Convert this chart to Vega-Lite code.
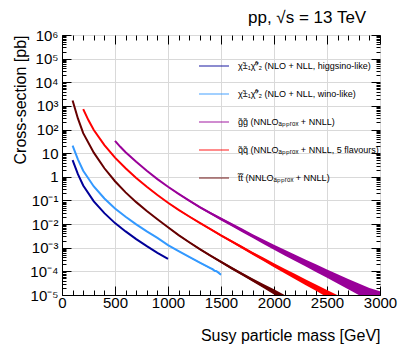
{
  "$schema": "https://vega.github.io/schema/vega-lite/v6.json",
  "width": 318,
  "height": 260,
  "autosize": {"type": "none"},
  "padding": {"left": 62, "top": 35, "right": 20, "bottom": 58},
  "background": "white",
  "config": {"font": "Liberation Sans", "view": {"stroke": "black", "strokeWidth": 1},
    "axis": {"labelFontSize": 15, "labelColor": "black", "titleFontSize": 16, "titleFontWeight": "normal", "titleColor": "black"},
    "legend": {"labelFontSize": 9, "labelColor": "black"}},
  "title": {"text": "pp, √s = 13 TeV", "anchor": "start", "frame": "group", "fontSize": 17, "fontWeight": "normal", "color": "black", "dx": 186, "offset": 1},
  "data": {"values": [
    {"p":"H","m":100,"xs":5.1},{"p":"H","m":150,"xs":1.3},{"p":"H","m":200,"xs":0.43},{"p":"H","m":300,"xs":0.092},{"p":"H","m":400,"xs":0.029},{"p":"H","m":500,"xs":0.011},{"p":"H","m":600,"xs":0.0049},{"p":"H","m":700,"xs":0.0023},{"p":"H","m":800,"xs":0.00116},{"p":"H","m":900,"xs":0.00061},{"p":"H","m":1000,"xs":0.00034},
    {"p":"W","m":100,"xs":21},{"p":"W","m":150,"xs":5.5},{"p":"W","m":200,"xs":1.8},{"p":"W","m":300,"xs":0.39},{"p":"W","m":400,"xs":0.121},{"p":"W","m":500,"xs":0.046},{"p":"W","m":600,"xs":0.0204},{"p":"W","m":700,"xs":0.0097},{"p":"W","m":800,"xs":0.0049},{"p":"W","m":900,"xs":0.0026},
    {"p":"W","m":1000,"xs":0.0013,"lo":0.00126,"hi":0.00134},{"p":"W","m":1100,"xs":0.00072,"lo":0.000692,"hi":0.000749},{"p":"W","m":1200,"xs":0.00041,"lo":0.00039,"hi":0.00043},{"p":"W","m":1300,"xs":0.000235,"lo":0.000222,"hi":0.000249},{"p":"W","m":1400,"xs":0.000136,"lo":0.000127,"hi":0.000146},{"p":"W","m":1420,"xs":0.000124,"lo":0.000115,"hi":0.000134},{"p":"W","m":1440,"xs":0.000106,"lo":0.000098,"hi":0.000114},{"p":"W","m":1460,"xs":0.0001,"lo":0.000093,"hi":0.000108},{"p":"W","m":1480,"xs":0.000086,"lo":0.00008,"hi":0.000093},{"p":"W","m":1500,"xs":0.000072,"lo":0.000067,"hi":0.000078},
    {"p":"G","m":500,"xs":33},{"p":"G","m":550,"xs":18.6},{"p":"G","m":600,"xs":11},{"p":"G","m":700,"xs":4.3},{"p":"G","m":800,"xs":1.8},{"p":"G","m":900,"xs":0.8},
    {"p":"G","m":1000,"xs":0.38,"lo":0.358,"hi":0.403},{"p":"G","m":1100,"xs":0.19,"lo":0.178,"hi":0.203},{"p":"G","m":1200,"xs":0.098,"lo":0.0907,"hi":0.106},{"p":"G","m":1300,"xs":0.052,"lo":0.0473,"hi":0.0572},{"p":"G","m":1400,"xs":0.029,"lo":0.0259,"hi":0.0325},{"p":"G","m":1500,"xs":0.0165,"lo":0.01435,"hi":0.019},{"p":"G","m":1600,"xs":0.0094,"lo":0.00803,"hi":0.011},{"p":"G","m":1700,"xs":0.0054,"lo":0.00454,"hi":0.00643},{"p":"G","m":1800,"xs":0.0031,"lo":0.00256,"hi":0.00375},{"p":"G","m":1900,"xs":0.0018,"lo":0.00145,"hi":0.00223},{"p":"G","m":2000,"xs":0.00105,"lo":0.000827,"hi":0.00133},{"p":"G","m":2100,"xs":0.00062,"lo":0.000473,"hi":0.000812},{"p":"G","m":2200,"xs":0.00037,"lo":0.000274,"hi":0.0005},{"p":"G","m":2300,"xs":0.000222,"lo":0.000159,"hi":0.000311},{"p":"G","m":2400,"xs":0.000133,"lo":0.0000917,"hi":0.000193},{"p":"G","m":2500,"xs":0.00008,"lo":0.0000533,"hi":0.00012},{"p":"G","m":2600,"xs":0.000048,"lo":0.0000306,"hi":0.0000754},{"p":"G","m":2700,"xs":0.000029,"lo":0.0000176,"hi":0.0000479},{"p":"G","m":2800,"xs":0.0000175,"lo":0.0000101,"hi":0.0000303},{"p":"G","m":2900,"xs":0.000011,"lo":0.000006,"hi":0.00002},{"p":"G","m":3000,"xs":0.0000075,"lo":0.0000039,"hi":0.0000143},
    {"p":"Q","m":200,"xs":730},{"p":"Q","m":250,"xs":245},{"p":"Q","m":300,"xs":95},{"p":"Q","m":400,"xs":22},{"p":"Q","m":500,"xs":6.5},{"p":"Q","m":600,"xs":2.3},{"p":"Q","m":700,"xs":0.9},{"p":"Q","m":800,"xs":0.38},{"p":"Q","m":900,"xs":0.17},
    {"p":"Q","m":1000,"xs":0.08,"lo":0.0766,"hi":0.0836},{"p":"Q","m":1100,"xs":0.04,"lo":0.0377,"hi":0.0424},{"p":"Q","m":1200,"xs":0.021,"lo":0.0196,"hi":0.0225},{"p":"Q","m":1300,"xs":0.0112,"lo":0.0104,"hi":0.0121},{"p":"Q","m":1400,"xs":0.0061,"lo":0.00559,"hi":0.00665},{"p":"Q","m":1500,"xs":0.0033,"lo":0.003,"hi":0.00363},{"p":"Q","m":1600,"xs":0.00185,"lo":0.00165,"hi":0.00207},{"p":"Q","m":1700,"xs":0.00104,"lo":0.000912,"hi":0.00119},{"p":"Q","m":1800,"xs":0.00057,"lo":0.000491,"hi":0.000661},{"p":"Q","m":1900,"xs":0.000325,"lo":0.000273,"hi":0.000387},{"p":"Q","m":2000,"xs":0.00018,"lo":0.000148,"hi":0.00022},{"p":"Q","m":2100,"xs":0.000104,"lo":0.0000832,"hi":0.00013},{"p":"Q","m":2200,"xs":0.00006,"lo":0.0000469,"hi":0.0000768},{"p":"Q","m":2300,"xs":0.0000345,"lo":0.0000261,"hi":0.0000455},{"p":"Q","m":2400,"xs":0.00002,"lo":0.0000146,"hi":0.0000274},{"p":"Q","m":2500,"xs":0.0000115,"lo":0.0000081,"hi":0.0000163},{"p":"Q","m":2600,"xs":0.0000066,"lo":0.00000446,"hi":0.00000977},
    {"p":"T","m":100,"xs":1700},{"p":"T","m":150,"xs":295},{"p":"T","m":200,"xs":70},{"p":"T","m":300,"xs":10.5},{"p":"T","m":400,"xs":2.3},{"p":"T","m":500,"xs":0.65},{"p":"T","m":600,"xs":0.22},{"p":"T","m":700,"xs":0.085},{"p":"T","m":800,"xs":0.036},{"p":"T","m":900,"xs":0.016},
    {"p":"T","m":1000,"xs":0.0073,"lo":0.00695,"hi":0.00767},{"p":"T","m":1100,"xs":0.0034,"lo":0.00321,"hi":0.0036},{"p":"T","m":1200,"xs":0.0017,"lo":0.00159,"hi":0.00182},{"p":"T","m":1300,"xs":0.00087,"lo":0.000806,"hi":0.00094},{"p":"T","m":1400,"xs":0.00046,"lo":0.000422,"hi":0.000501},{"p":"T","m":1500,"xs":0.00025,"lo":0.000225,"hi":0.000278},{"p":"T","m":1600,"xs":0.000137,"lo":0.000121,"hi":0.000155},{"p":"T","m":1700,"xs":0.000076,"lo":0.0000661,"hi":0.0000874},{"p":"T","m":1800,"xs":0.0000425,"lo":0.000036,"hi":0.0000502},{"p":"T","m":1900,"xs":0.000024,"lo":0.0000198,"hi":0.000029},{"p":"T","m":2000,"xs":0.0000135,"lo":0.0000105,"hi":0.0000173},{"p":"T","m":2100,"xs":0.0000076,"lo":0.00000576,"hi":0.00001}
  ]},
  "layer": [
    {
      "transform": [{"filter": "isValid(datum.lo)"}],
      "mark": {"type": "area", "clip": true},
      "encoding": {
        "x": {"field": "m", "type": "quantitative",
          "scale": {"domain": [0, 3000], "nice": false},
          "axis": {"orient": "bottom", "title": "Susy particle mass [GeV]", "titleAnchor": "end", "titleFontSize": 16, "titleFontWeight": "normal", "titleColor": "black", "titlePadding": 13,
            "values": [0,100,200,300,400,500,600,700,800,900,1000,1100,1200,1300,1400,1500,1600,1700,1800,1900,2000,2100,2200,2300,2400,2500,2600,2700,2800,2900,3000],
            "format": "d", "labelExpr": "datum.value % 500 == 0 ? datum.label : ''",
            "labelFontSize": 15, "labelColor": "black", "labelOverlap": false, "labelFlush": false, "labelBound": false, "labelPadding": 9,
            "tickColor": "black", "tickSize": {"condition": {"test": "datum.value % 500 == 0", "value": -9}, "value": -5},
            "domainColor": "black", "grid": true, "gridColor": "#d9d9d9",
            "gridOpacity": {"condition": {"test": "datum.value % 500 == 0", "value": 1}, "value": 0}}},
        "y": {"field": "lo", "type": "quantitative",
          "scale": {"type": "log", "domain": [0.00001, 1000000], "nice": false},
          "axis": {"orient": "left", "title": "Cross-section [pb]", "titleAnchor": "end", "titleFontSize": 16, "titleFontWeight": "normal", "titleColor": "black", "titlePadding": 1,
            "values": [0.00001,0.00002,0.00003,0.00004,0.00005,0.00006,0.00007,0.00008,0.00009,0.0001,0.0002,0.0003,0.0004,0.0005,0.0006,0.0007,0.0008,0.0009,0.001,0.002,0.003,0.004,0.005,0.006,0.007,0.008,0.009,0.01,0.02,0.03,0.04,0.05,0.06,0.07,0.08,0.09,0.1,0.2,0.3,0.4,0.5,0.6,0.7,0.8,0.9,1,2,3,4,5,6,7,8,9,10,20,30,40,50,60,70,80,90,100,200,300,400,500,600,700,800,900,1000,2000,3000,4000,5000,6000,7000,8000,9000,10000,20000,30000,40000,50000,60000,70000,80000,90000,100000,200000,300000,400000,500000,600000,700000,800000,900000,1000000],
            "labelExpr": "abs(log(datum.value)/LN10 - round(log(datum.value)/LN10)) < 0.001 ? ['10⁻⁵','10⁻⁴','10⁻³','10⁻²','10⁻¹','1','10','10²','10³','10⁴','10⁵','10⁶'][round(log(datum.value)/LN10)+5] : ''",
            "labelFontSize": 15, "labelColor": "black", "labelOverlap": false, "labelFlush": false, "labelBound": false, "labelPadding": 13,
            "tickColor": "black", "tickSize": {"condition": {"test": "abs(log(datum.value)/LN10 - round(log(datum.value)/LN10)) < 0.001", "value": -9}, "value": -4},
            "domainColor": "black", "grid": true, "gridColor": "#d9d9d9",
            "gridOpacity": {"condition": {"test": "abs(log(datum.value)/LN10 - round(log(datum.value)/LN10)) < 0.001", "value": 1}, "value": 0}}},
        "y2": {"field": "hi"},
        "color": {"field": "p", "type": "nominal",
          "scale": {"domain": ["H", "W", "G", "Q", "T"], "range": ["#000099", "#3399ff", "#990099", "#ff0000", "#660000"]},
          "legend": {"orient": "none", "legendX": 136, "legendY": 15, "title": null, "symbolType": "stroke", "symbolSize": 900, "symbolStrokeWidth": 1.5, "symbolOpacity": 0.6, "labelFontSize": 9, "labelColor": "black", "labelLimit": 300, "rowPadding": 7, "labelOffset": 8,
            "labelExpr": "datum.value == 'H' ? 'χ̃±₁χ̃⁰₂ (NLO + NLL, higgsino-like)' : datum.value == 'W' ? 'χ̃±₁χ̃⁰₂ (NLO + NLL, wino-like)' : datum.value == 'G' ? 'g̃g̃ (NNLOₐₚₚᵣₒₓ + NNLL)' : datum.value == 'Q' ? 'q̃q̃ (NNLOₐₚₚᵣₒₓ + NNLL, 5 flavours)' : 't̃t̃ (NNLOₐₚₚᵣₒₓ + NNLL)'"}}
      }
    },
    {
      "mark": {"type": "line", "clip": true, "strokeWidth": 2},
      "encoding": {
        "x": {"field": "m", "type": "quantitative",
          "axis": {"orient": "top", "title": null, "labels": false, "grid": false, "domain": false,
            "values": [0,100,200,300,400,500,600,700,800,900,1000,1100,1200,1300,1400,1500,1600,1700,1800,1900,2000,2100,2200,2300,2400,2500,2600,2700,2800,2900,3000],
            "tickColor": "black", "tickSize": {"condition": {"test": "datum.value % 500 == 0", "value": -9}, "value": -5}}},
        "y": {"field": "xs", "type": "quantitative",
          "axis": {"orient": "right", "title": null, "labels": false, "grid": false, "domain": false,
            "values": [0.00001,0.00002,0.00003,0.00004,0.00005,0.00006,0.00007,0.00008,0.00009,0.0001,0.0002,0.0003,0.0004,0.0005,0.0006,0.0007,0.0008,0.0009,0.001,0.002,0.003,0.004,0.005,0.006,0.007,0.008,0.009,0.01,0.02,0.03,0.04,0.05,0.06,0.07,0.08,0.09,0.1,0.2,0.3,0.4,0.5,0.6,0.7,0.8,0.9,1,2,3,4,5,6,7,8,9,10,20,30,40,50,60,70,80,90,100,200,300,400,500,600,700,800,900,1000,2000,3000,4000,5000,6000,7000,8000,9000,10000,20000,30000,40000,50000,60000,70000,80000,90000,100000,200000,300000,400000,500000,600000,700000,800000,900000,1000000],
            "tickColor": "black", "tickSize": {"condition": {"test": "abs(log(datum.value)/LN10 - round(log(datum.value)/LN10)) < 0.001", "value": -9}, "value": -4}}},
        "color": {"field": "p", "type": "nominal",
          "legend": {"orient": "none", "legendX": 136, "legendY": 15, "title": null, "symbolType": "stroke", "symbolSize": 900, "symbolStrokeWidth": 1.5, "symbolOpacity": 0.6, "labelFontSize": 9, "labelColor": "black", "labelLimit": 300, "rowPadding": 7, "labelOffset": 8,
            "labelExpr": "datum.value == 'H' ? 'χ̃±₁χ̃⁰₂ (NLO + NLL, higgsino-like)' : datum.value == 'W' ? 'χ̃±₁χ̃⁰₂ (NLO + NLL, wino-like)' : datum.value == 'G' ? 'g̃g̃ (NNLOₐₚₚᵣₒₓ + NNLL)' : datum.value == 'Q' ? 'q̃q̃ (NNLOₐₚₚᵣₒₓ + NNLL, 5 flavours)' : 't̃t̃ (NNLOₐₚₚᵣₒₓ + NNLL)'"}}
      }
    }
  ],
  "resolve": {"axis": {"x": "independent", "y": "independent"}}
}
